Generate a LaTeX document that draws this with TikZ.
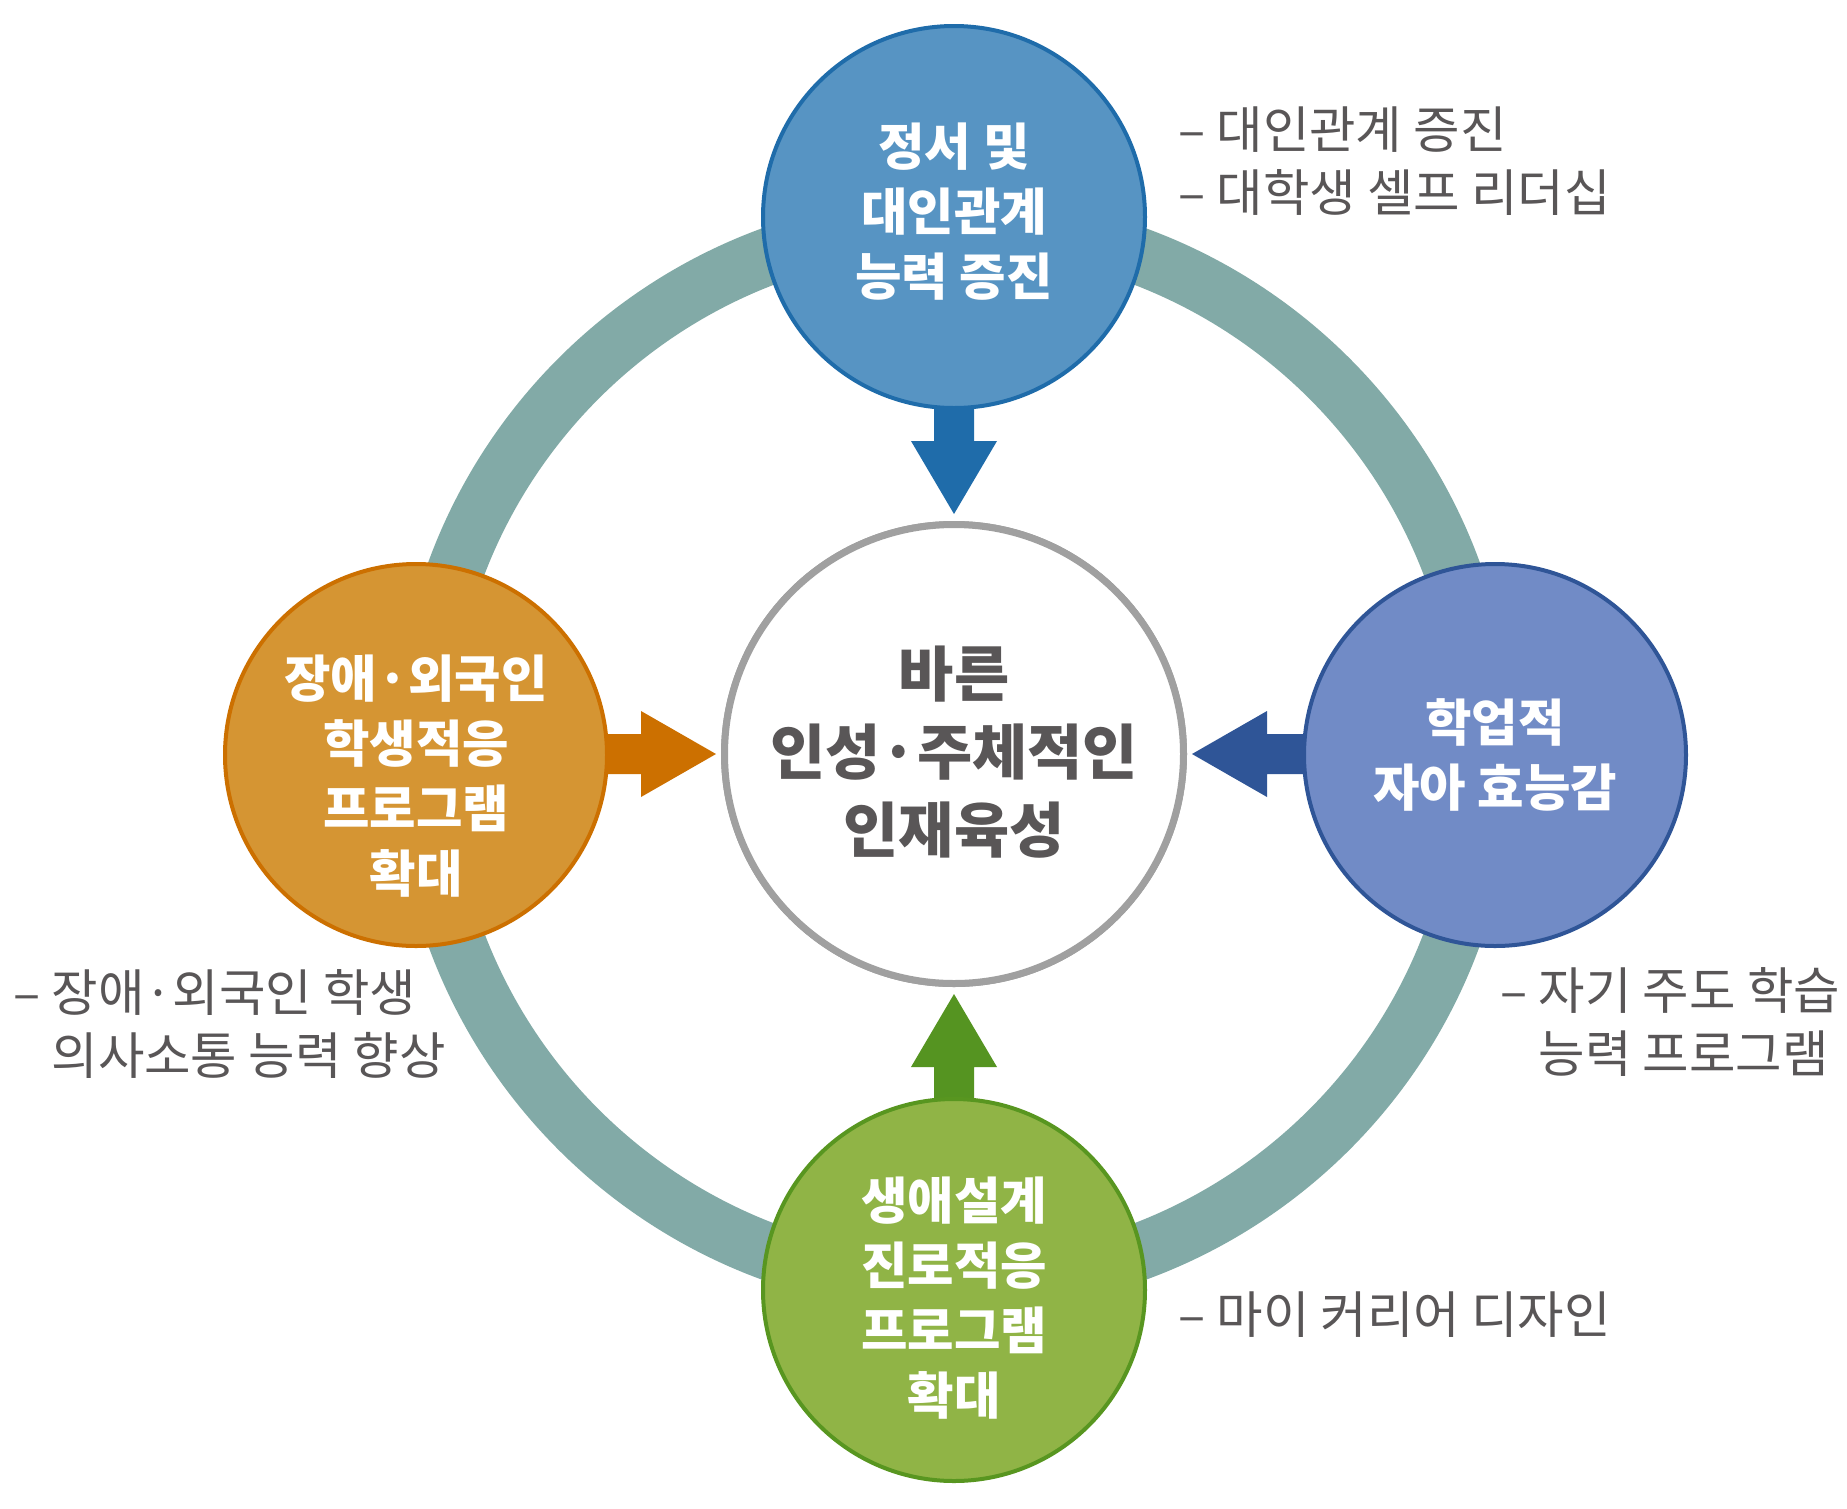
\documentclass[tikz,border=0pt]{standalone}
\usepackage{fontspec}
\setmainfont{Noto Sans CJK KR}
\usetikzlibrary{calc}
\definecolor{ringc}{RGB}{130,170,167}
\definecolor{topfill}{RGB}{87,148,195}
\definecolor{topedge}{RGB}{31,108,170}
\definecolor{leftfill}{RGB}{213,149,51}
\definecolor{leftedge}{RGB}{204,112,0}
\definecolor{rightfill}{RGB}{113,139,198}
\definecolor{rightedge}{RGB}{47,85,151}
\definecolor{botfill}{RGB}{144,180,70}
\definecolor{botedge}{RGB}{88,150,32}
\definecolor{botarrow}{RGB}{85,148,33}
\definecolor{midedge}{RGB}{160,160,160}
\definecolor{txt}{RGB}{89,86,87}
\begin{document}
\begin{tikzpicture}[x=1pt,y=-1pt,
  bubble/.style={circle,inner sep=0pt,line width=4pt,minimum size=382pt},
  bubtext/.style={text=white,align=center,inner sep=0pt,font=\fontsize{50.5}{65}\selectfont\bfseries},
  midtext/.style={text=txt,align=center,inner sep=0pt,font=\fontsize{60}{78}\selectfont\bfseries},
  side/.style={text=txt,align=left,inner sep=0pt,anchor=west,font=\fontsize{50.5}{63}\selectfont}]
\path[use as bounding box,fill=white] (0,0) rectangle (1847,1508);
% central circle (named first for the ring)
\node[circle,inner sep=0pt,minimum size=459pt,line width=7pt,draw=midedge,fill=white] (mid) at (954,754) {};
\draw[ringc,line width=57pt] (mid.center) circle[radius=531pt];
\node[circle,inner sep=0pt,minimum size=459pt,line width=7pt,draw=midedge,fill=white] (mid) at (954,754) {};
\node[midtext] (midt) at (954,752) {바른\\인성·주체적인\\인재육성};
% arrows
\coordinate (topc) at (954,217);
\coordinate (leftc) at (416,755);
\coordinate (rightc) at (1495,755);
\coordinate (botc) at (954,1290);
\fill[topedge] ($(topc)+(-20,0)$) -- ($(mid.north)+(-20,-80)$) -- ($(mid.north)+(-43,-80)$) -- ($(mid.north)+(0,-7)$) -- ($(mid.north)+(43,-80)$) -- ($(mid.north)+(20,-80)$) -- ($(topc)+(20,0)$) -- cycle;
\fill[botarrow] ($(botc)+(-20,0)$) -- ($(mid.south)+(-20,80)$) -- ($(mid.south)+(-43,80)$) -- ($(mid.south)+(0,7)$) -- ($(mid.south)+(43,80)$) -- ($(mid.south)+(20,80)$) -- ($(botc)+(20,0)$) -- cycle;
\fill[leftedge] ($(leftc)+(0,-20)$) -- ($(mid.west)+(-80,-20)$) -- ($(mid.west)+(-80,-43)$) -- ($(mid.west)+(-5,0)$) -- ($(mid.west)+(-80,43)$) -- ($(mid.west)+(-80,20)$) -- ($(leftc)+(0,20)$) -- cycle;
\fill[rightedge] ($(rightc)+(0,-20)$) -- ($(mid.east)+(80,-20)$) -- ($(mid.east)+(80,-43)$) -- ($(mid.east)+(5,0)$) -- ($(mid.east)+(80,43)$) -- ($(mid.east)+(80,20)$) -- ($(rightc)+(0,20)$) -- cycle;
% outer circles
\node[bubble,draw=topedge,fill=topfill] (top) at (topc) {};
\node[bubble,draw=leftedge,fill=leftfill] (left) at (leftc) {};
\node[bubble,draw=rightedge,fill=rightfill] (right) at (rightc) {};
\node[bubble,draw=botedge,fill=botfill] (bot) at (botc) {};
\node[bubtext] (topt) at ($(top.center)+(0,-5)$) {정서 및\\대인관계\\능력 증진};
\node[bubtext] (leftt) at ($(left.center)+(0,21)$) {장애·외국인\\학생적응\\프로그램\\확대};
\node[bubtext] (rightt) at ($(right.center)+(0,0)$) {학업적\\자아 효능감};
\node[bubtext] (bott) at ($(bot.center)+(0,8)$) {생애설계\\진로적응\\프로그램\\확대};
% side notes
\node[side] (n1) at (1178,161) {– 대인관계 증진\\– 대학생 셀프 리더십};
\node[side] (n2) at (13,1024) {– 장애·외국인 학생\\\hphantom{– }의사소통 능력 향상};
\node[side] (n3) at (1500,1022) {– 자기 주도 학습\\\hphantom{– }능력 프로그램};
\node[side] (n4) at (1178,1315) {– 마이 커리어 디자인};
\end{tikzpicture}
\end{document}
